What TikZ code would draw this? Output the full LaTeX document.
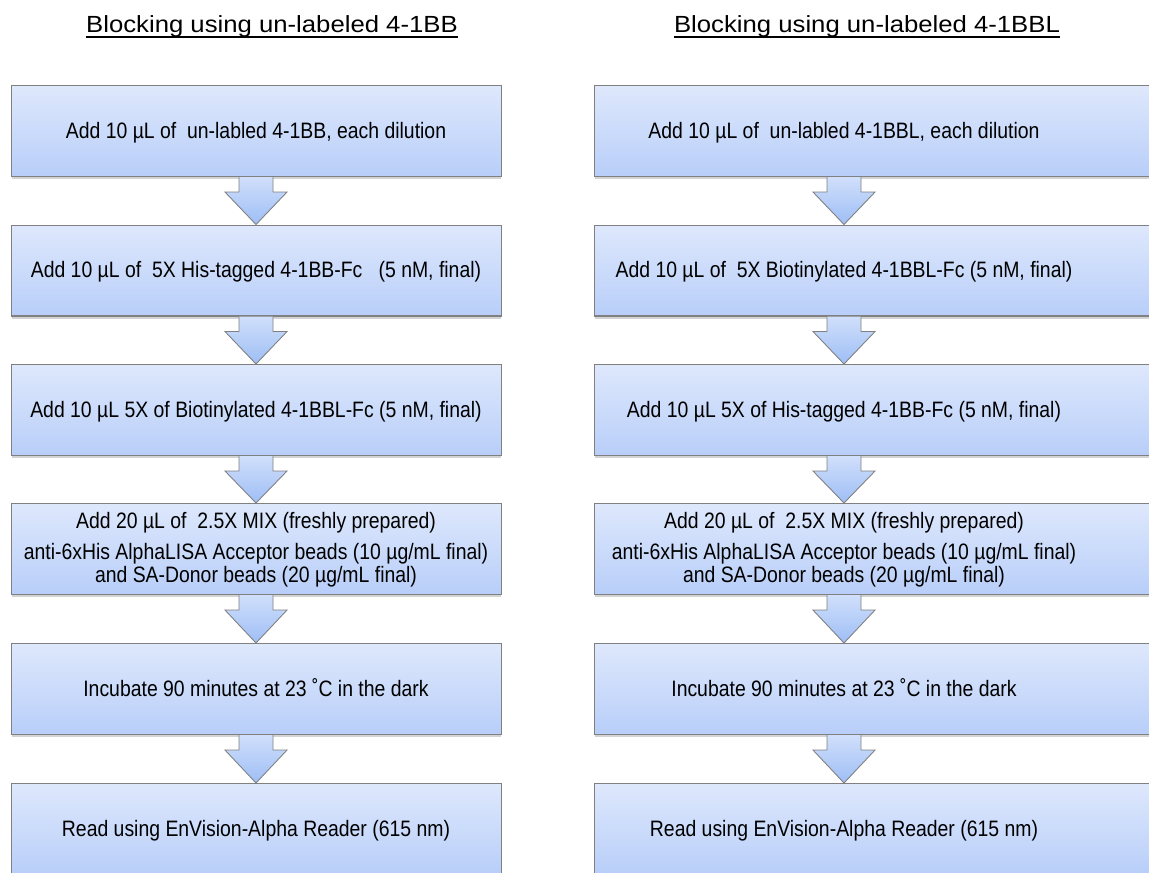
\documentclass[tikz,border=0pt]{standalone}
\usepackage{fontspec}
\setmainfont{Liberation Sans}
\newfontfamily\stepfont[FakeStretch=0.87]{Liberation Sans}
\newfontfamily\headfont[FakeStretch=1.1]{Liberation Sans}
\usetikzlibrary{calc,shadows}
\definecolor{stepblue}{RGB}{222,232,252}
\definecolor{stepbluedark}{RGB}{184,206,249}
\definecolor{arrowblue}{RGB}{208,223,251}
\definecolor{arrowbluedark}{RGB}{158,190,245}
\definecolor{edgegray}{RGB}{128,128,128}

\tikzset{
 stepbox/.style={draw=edgegray,line width=0.6pt,
  top color=stepblue,bottom color=stepbluedark,
  minimum height=1.82cm,inner sep=0pt,anchor=north west,
  drop shadow={shadow xshift=0pt,shadow yshift=-1.6pt,opacity=.35}},
 steptext/.style={anchor=base,inner sep=0pt,font=\stepfont\fontsize{12.7}{15}\selectfont},
 blockarrow/.style={draw=edgegray,line width=0.5pt,line join=miter,
  top color=arrowblue,bottom color=arrowbluedark},
 titletext/.style={anchor=base,inner sep=0pt,font=\headfont\fontsize{13.3}{15}\selectfont}
}

% block arrow under box #1 into box #2, #3 = offset from the west side
\newcommand{\flowarrow}[3]{
 \draw[blockarrow] ($(#1.south west)+(#3-17,0)$) -- ++(0,15) -- ++(-14,0)
  -- ($(#2.north west)+(#3,0)$) -- ($(#1.south west)+(#3+31,15)$)
  -- ++(-14,0) -- ++(0,-15);
}

\begin{document}
\begin{tikzpicture}[x=0.02cm,y=-0.02cm]
 \useasboundingbox (0,0) rectangle (1149,872);
 \clip (0,0) rectangle (1149,872);

 % titles
 \node[titletext] (tl) at (272,32) {Blocking using un-labeled 4-1BB};
 \node[titletext] (tr) at (867,32) {Blocking using un-labeled 4-1BBL};
 \foreach \t in {tl,tr}
  \draw[line width=1.1pt] ($(\t.base west)+(0,5)$) -- ($(\t.base east)+(0,5)$);

 % boxes
 \foreach \i/\y in {1/85,2/224.5,3/364,4/503,5/643,6/783}{
  \node[stepbox,minimum width=9.8cm] (l\i) at (11,\y) {};
  \node[stepbox,minimum width=11.4cm] (r\i) at (594,\y) {};
 }

 % arrows
 \foreach \i [evaluate=\i as \j using int(\i+1)] in {1,...,5}{
  \flowarrow{l\i}{l\j}{245}
  \flowarrow{r\i}{r\j}{250}
 }

 % left column
 \node[steptext] (lt1) at ($(l1.north west)+(245,53)$)
  {Add 10 µL of~ un-labled 4-1BB, each dilution};
 \node[steptext] (lt2) at ($(l2.north west)+(245,53)$)
  {Add 10 µL of~ 5X His-tagged 4-1BB-Fc~~ (5 nM, final)};
 \node[steptext] (lt3) at ($(l3.north west)+(245,53)$)
  {Add 10 µL 5X of Biotinylated 4-1BBL-Fc (5 nM, final)};
 \node[steptext] (lt4a) at ($(l4.north west)+(245,25)$)
  {Add 20 µL of~ 2.5X MIX (freshly prepared)};
 \node[steptext] (lt4b) at ($(l4.north west)+(245,56)$)
  {anti-6xHis AlphaLISA Acceptor beads (10 µg/mL final)};
 \node[steptext] (lt4c) at ($(l4.north west)+(245,79)$)
  {and SA-Donor beads (20 µg/mL final)};
 \node[steptext] (lt5) at ($(l5.north west)+(245,53)$)
  {Incubate 90 minutes at 23 ˚C in the dark};
 \node[steptext] (lt6) at ($(l6.north west)+(245,53)$)
  {Read using EnVision-Alpha Reader (615 nm)};

 % right column
 \node[steptext] (rt1) at ($(r1.north west)+(250,53)$)
  {Add 10 µL of~ un-labled 4-1BBL, each dilution};
 \node[steptext] (rt2) at ($(r2.north west)+(250,53)$)
  {Add 10 µL of~ 5X Biotinylated 4-1BBL-Fc (5 nM, final)};
 \node[steptext] (rt3) at ($(r3.north west)+(250,53)$)
  {Add 10 µL 5X of His-tagged 4-1BB-Fc (5 nM, final)};
 \node[steptext] (rt4a) at ($(r4.north west)+(250,25)$)
  {Add 20 µL of~ 2.5X MIX (freshly prepared)};
 \node[steptext] (rt4b) at ($(r4.north west)+(250,56)$)
  {anti-6xHis AlphaLISA Acceptor beads (10 µg/mL final)};
 \node[steptext] (rt4c) at ($(r4.north west)+(250,79)$)
  {and SA-Donor beads (20 µg/mL final)};
 \node[steptext] (rt5) at ($(r5.north west)+(250,53)$)
  {Incubate 90 minutes at 23 ˚C in the dark};
 \node[steptext] (rt6) at ($(r6.north west)+(250,53)$)
  {Read using EnVision-Alpha Reader (615 nm)};
\end{tikzpicture}
\end{document}
